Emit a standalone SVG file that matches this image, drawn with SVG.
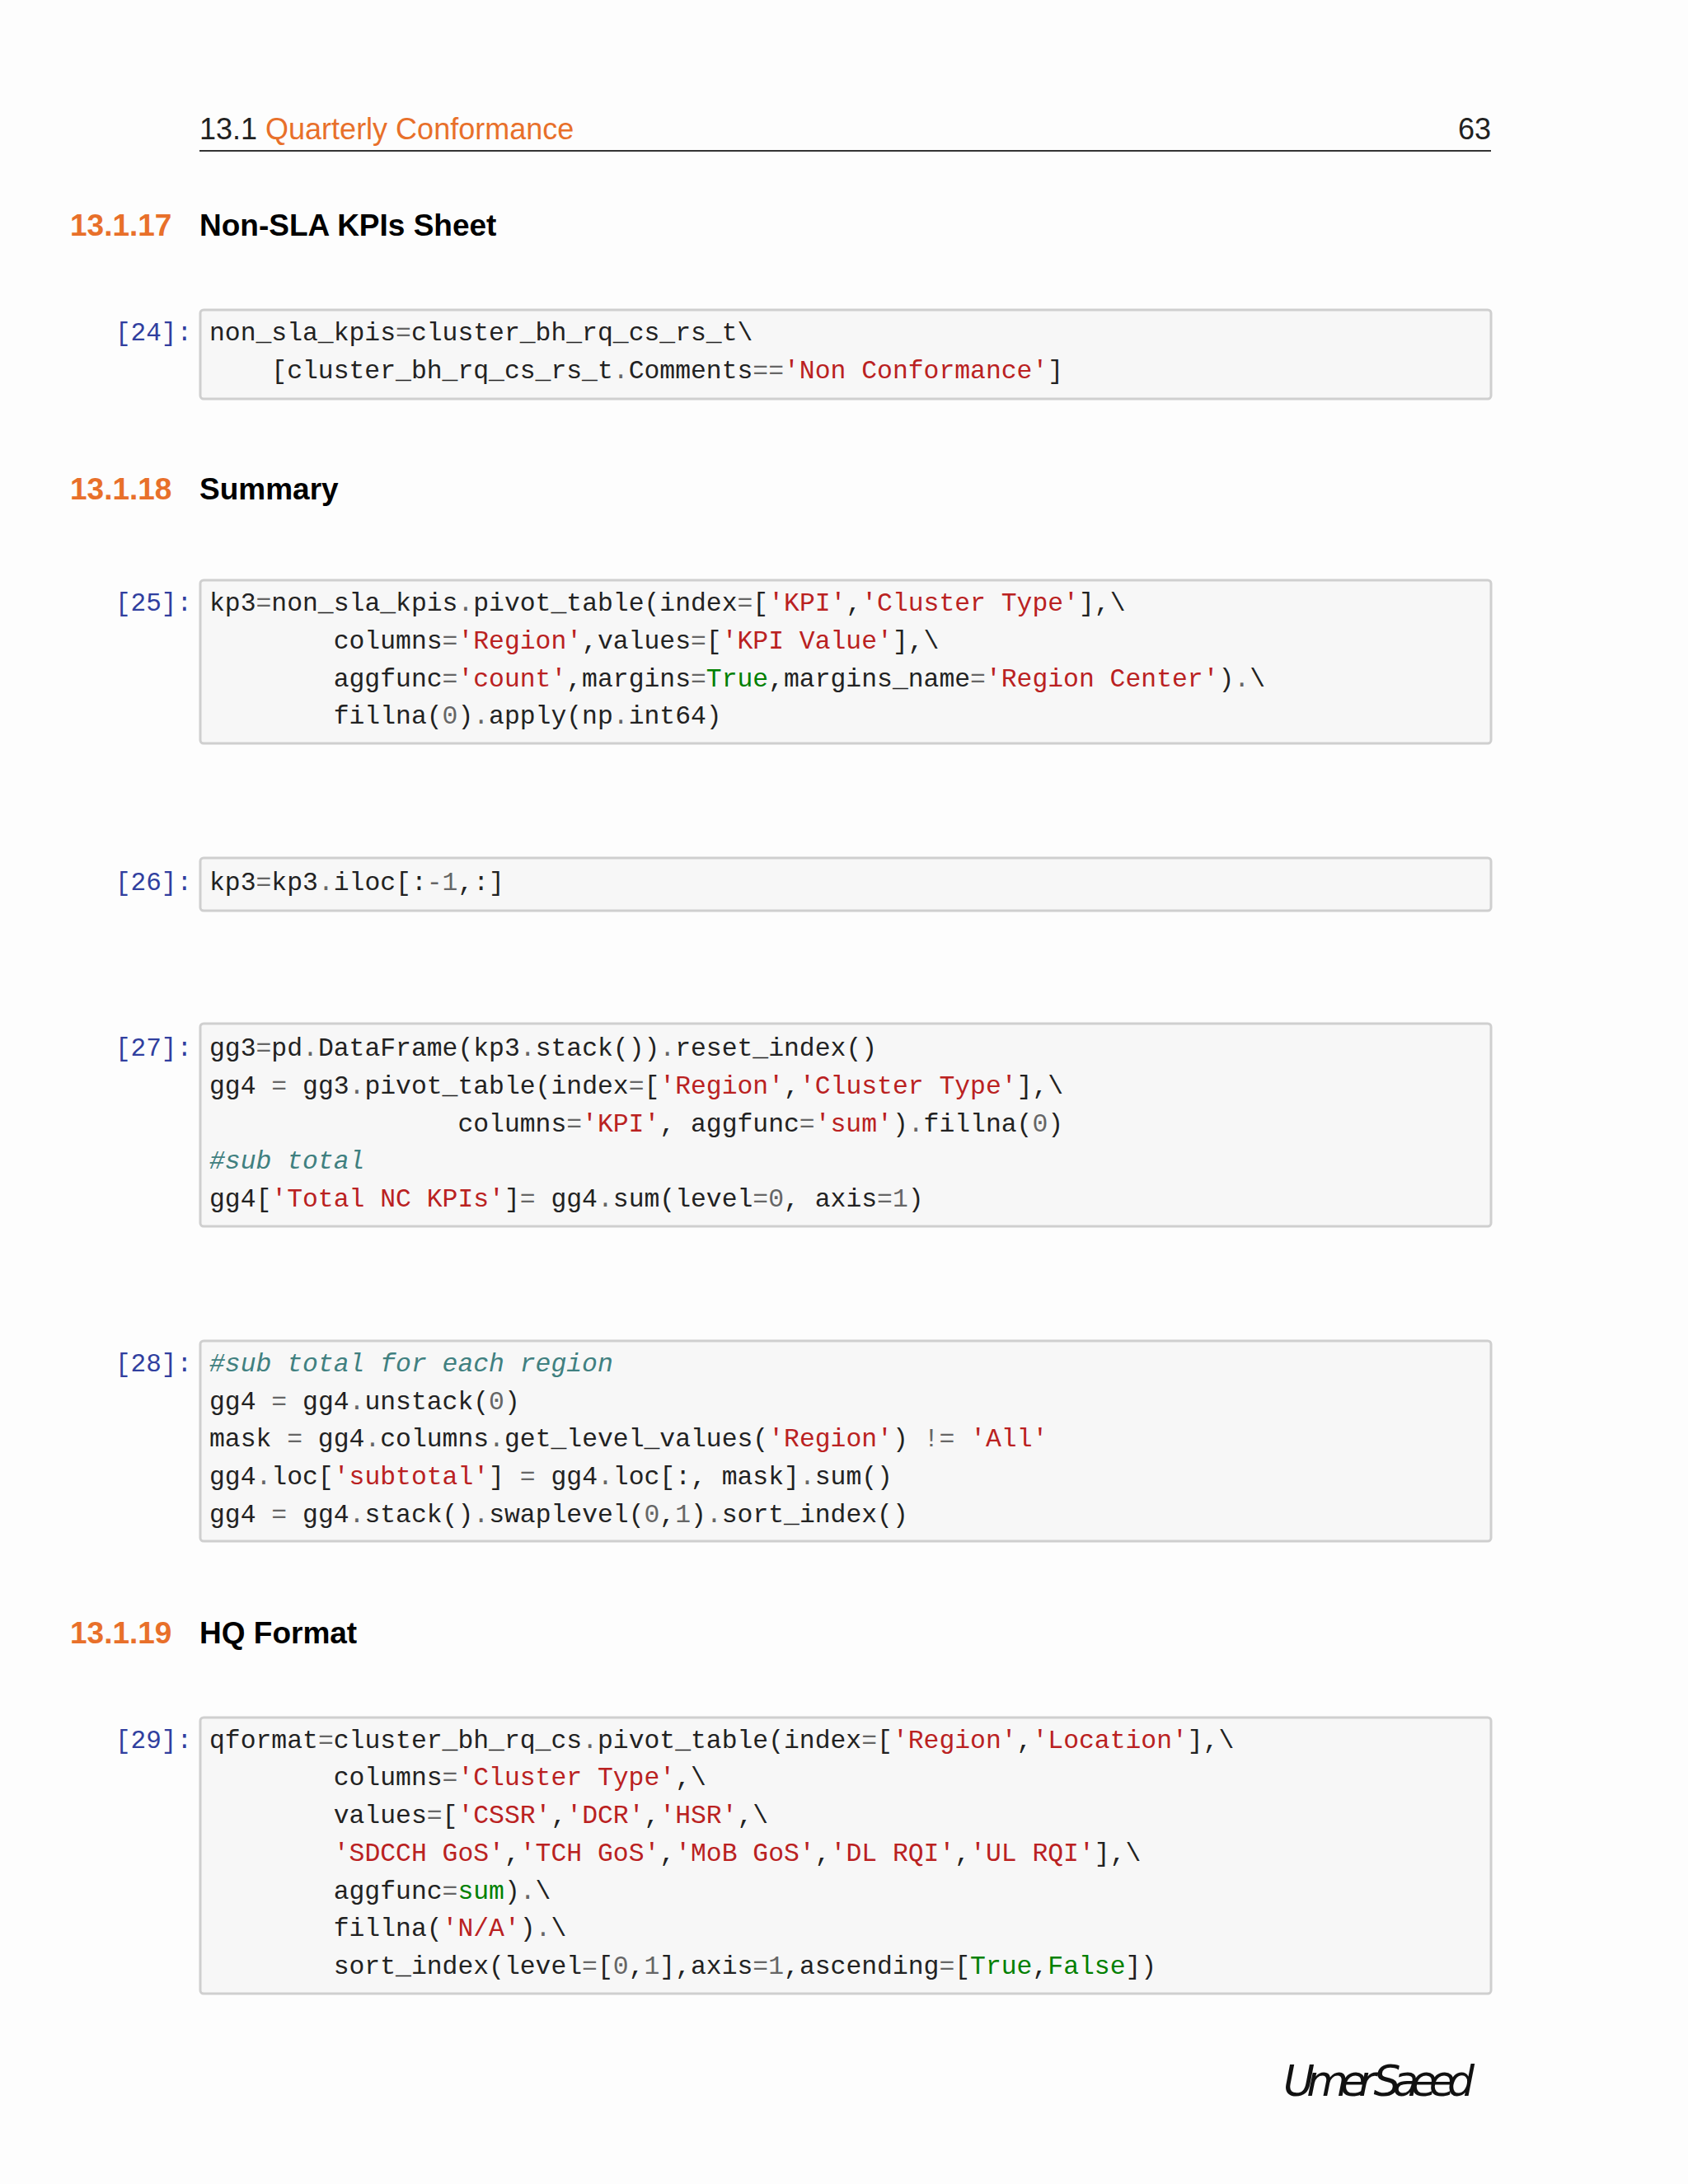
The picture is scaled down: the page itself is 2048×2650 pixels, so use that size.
<svg xmlns="http://www.w3.org/2000/svg" width="2048" height="2650" viewBox="0 0 2048 2650">
<style>
.hd{font-family:"Liberation Sans",sans-serif;}
.sec{font-family:"Liberation Sans",sans-serif;font-size:37px;font-weight:bold;}
.num{fill:#E8702A;}
.box{fill:#F7F7F7;stroke:#CFCFCF;stroke-width:3;}
.pr{font-family:"Liberation Mono",monospace;font-size:31px;fill:#303F9F;}
.c{font-family:"Liberation Mono",monospace;font-size:31.4px;fill:#222;white-space:pre;}
.s{fill:#BA2121;}
.k{fill:#008000;}
.o{fill:#666;}
.cm{fill:#408080;font-style:italic;}
</style>
<rect width="2048" height="2650" fill="#FDFDFD"/>
<g id="header">
<text class="hd" x="242" y="169" font-size="36" fill="#222">13.1 <tspan class="num">Quarterly Conformance</tspan></text>
<text class="hd" x="1809" y="169" font-size="36" fill="#222" text-anchor="end">63</text>
<line x1="242" y1="183" x2="1809" y2="183" stroke="#333" stroke-width="2"/>
</g>
<g id="s17"><text class="sec num" x="85" y="286">13.1.17</text><text class="sec" x="242" y="286">Non-SLA KPIs Sheet</text></g>
<g id="cell24">
<rect class="box" x="243" y="376" width="1566" height="108" rx="4"/>
<text class="pr" x="140" y="413">[24]:</text>
<text class="c" x="254" y="413">non_sla_kpis<tspan class="o">=</tspan>cluster_bh_rq_cs_rs_t\</text>
<text class="c" x="254" y="459">    [cluster_bh_rq_cs_rs_t<tspan class="o">.</tspan>Comments<tspan class="o">==</tspan><tspan class="s">'Non Conformance'</tspan>]</text>
</g>
<g id="s18"><text class="sec num" x="85" y="606">13.1.18</text><text class="sec" x="242" y="606">Summary</text></g>
<g id="cell25">
<rect class="box" x="243" y="704" width="1566" height="198" rx="4"/>
<text class="pr" x="140" y="741">[25]:</text>
<text class="c" x="254" y="741">kp3<tspan class="o">=</tspan>non_sla_kpis<tspan class="o">.</tspan>pivot_table(index<tspan class="o">=</tspan>[<tspan class="s">'KPI'</tspan>,<tspan class="s">'Cluster Type'</tspan>],\</text>
<text class="c" x="254" y="787">        columns<tspan class="o">=</tspan><tspan class="s">'Region'</tspan>,values<tspan class="o">=</tspan>[<tspan class="s">'KPI Value'</tspan>],\</text>
<text class="c" x="254" y="833">        aggfunc<tspan class="o">=</tspan><tspan class="s">'count'</tspan>,margins<tspan class="o">=</tspan><tspan class="k">True</tspan>,margins_name<tspan class="o">=</tspan><tspan class="s">'Region Center'</tspan>)<tspan class="o">.</tspan>\</text>
<text class="c" x="254" y="878">        fillna(<tspan class="o">0</tspan>)<tspan class="o">.</tspan>apply(np<tspan class="o">.</tspan>int64)</text>
</g>
<g id="cell26">
<rect class="box" x="243" y="1041" width="1566" height="64" rx="4"/>
<text class="pr" x="140" y="1080">[26]:</text>
<text class="c" x="254" y="1080">kp3<tspan class="o">=</tspan>kp3<tspan class="o">.</tspan>iloc[:<tspan class="o">-1</tspan>,:]</text>
</g>
<g id="cell27">
<rect class="box" x="243" y="1242" width="1566" height="246" rx="4"/>
<text class="pr" x="140" y="1281">[27]:</text>
<text class="c" x="254" y="1281">gg3<tspan class="o">=</tspan>pd<tspan class="o">.</tspan>DataFrame(kp3<tspan class="o">.</tspan>stack())<tspan class="o">.</tspan>reset_index()</text>
<text class="c" x="254" y="1327">gg4 <tspan class="o">=</tspan> gg3<tspan class="o">.</tspan>pivot_table(index<tspan class="o">=</tspan>[<tspan class="s">'Region'</tspan>,<tspan class="s">'Cluster Type'</tspan>],\</text>
<text class="c" x="254" y="1373">                columns<tspan class="o">=</tspan><tspan class="s">'KPI'</tspan>, aggfunc<tspan class="o">=</tspan><tspan class="s">'sum'</tspan>)<tspan class="o">.</tspan>fillna(<tspan class="o">0</tspan>)</text>
<text class="c" x="254" y="1418"><tspan class="cm">#sub total</tspan></text>
<text class="c" x="254" y="1464">gg4[<tspan class="s">'Total NC KPIs'</tspan>]<tspan class="o">=</tspan> gg4<tspan class="o">.</tspan>sum(level<tspan class="o">=0</tspan>, axis<tspan class="o">=1</tspan>)</text>
</g>
<g id="cell28">
<rect class="box" x="243" y="1627" width="1566" height="243" rx="4"/>
<text class="pr" x="140" y="1664">[28]:</text>
<text class="c" x="254" y="1664"><tspan class="cm">#sub total for each region</tspan></text>
<text class="c" x="254" y="1710">gg4 <tspan class="o">=</tspan> gg4<tspan class="o">.</tspan>unstack(<tspan class="o">0</tspan>)</text>
<text class="c" x="254" y="1755">mask <tspan class="o">=</tspan> gg4<tspan class="o">.</tspan>columns<tspan class="o">.</tspan>get_level_values(<tspan class="s">'Region'</tspan>) <tspan class="o">!=</tspan> <tspan class="s">'All'</tspan></text>
<text class="c" x="254" y="1801">gg4<tspan class="o">.</tspan>loc[<tspan class="s">'subtotal'</tspan>] <tspan class="o">=</tspan> gg4<tspan class="o">.</tspan>loc[:, mask]<tspan class="o">.</tspan>sum()</text>
<text class="c" x="254" y="1847">gg4 <tspan class="o">=</tspan> gg4<tspan class="o">.</tspan>stack()<tspan class="o">.</tspan>swaplevel(<tspan class="o">0</tspan>,<tspan class="o">1</tspan>)<tspan class="o">.</tspan>sort_index()</text>
</g>
<g id="s19"><text class="sec num" x="85" y="1994">13.1.19</text><text class="sec" x="242" y="1994">HQ Format</text></g>
<g id="cell29">
<rect class="box" x="243" y="2084" width="1566" height="335" rx="4"/>
<text class="pr" x="140" y="2121">[29]:</text>
<text class="c" x="254" y="2121">qformat<tspan class="o">=</tspan>cluster_bh_rq_cs<tspan class="o">.</tspan>pivot_table(index<tspan class="o">=</tspan>[<tspan class="s">'Region'</tspan>,<tspan class="s">'Location'</tspan>],\</text>
<text class="c" x="254" y="2166">        columns<tspan class="o">=</tspan><tspan class="s">'Cluster Type'</tspan>,\</text>
<text class="c" x="254" y="2212">        values<tspan class="o">=</tspan>[<tspan class="s">'CSSR'</tspan>,<tspan class="s">'DCR'</tspan>,<tspan class="s">'HSR'</tspan>,\</text>
<text class="c" x="254" y="2258">        <tspan class="s">'SDCCH GoS'</tspan>,<tspan class="s">'TCH GoS'</tspan>,<tspan class="s">'MoB GoS'</tspan>,<tspan class="s">'DL RQI'</tspan>,<tspan class="s">'UL RQI'</tspan>],\</text>
<text class="c" x="254" y="2304">        aggfunc<tspan class="o">=</tspan><tspan class="k">sum</tspan>)<tspan class="o">.</tspan>\</text>
<text class="c" x="254" y="2349">        fillna(<tspan class="s">'N/A'</tspan>)<tspan class="o">.</tspan>\</text>
<text class="c" x="254" y="2395">        sort_index(level<tspan class="o">=</tspan>[<tspan class="o">0</tspan>,<tspan class="o">1</tspan>],axis<tspan class="o">=1</tspan>,ascending<tspan class="o">=</tspan>[<tspan class="k">True</tspan>,<tspan class="k">False</tspan>])</text>
</g>
<g id="signature"><text x="1557" y="2543" font-family="'DejaVu Sans',sans-serif" font-style="italic" font-size="52" font-weight="300" fill="#111" textLength="232">Umer Saeed</text></g>
</svg>
